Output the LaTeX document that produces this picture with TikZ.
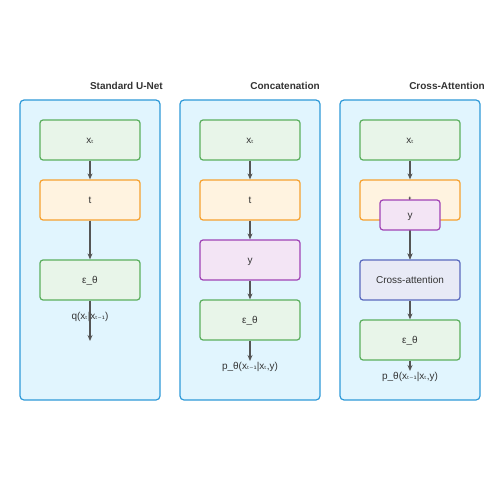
\documentclass[tikz,border=0pt]{standalone}
\usepackage{fontspec}
\setmainfont{Liberation Sans}
\newfontfamily\dvs{DejaVu Sans}
\usetikzlibrary{arrows.meta}
\newcommand{\xt}{x{\dvs\fontsize{8}{9}\selectfont ₜ}}
\newcommand{\xtm}{x{\dvs\fontsize{8}{9}\selectfont ₜ₋₁}}
\definecolor{panelfill}{HTML}{E1F5FE}
\definecolor{paneldraw}{HTML}{2E9AD8}
\definecolor{gfill}{HTML}{E8F5E9}
\definecolor{gdraw}{HTML}{5BAF5E}
\definecolor{ofill}{HTML}{FFF3E0}
\definecolor{odraw}{HTML}{F6A12F}
\definecolor{pfill}{HTML}{F3E5F5}
\definecolor{pdraw}{HTML}{A043B5}
\definecolor{bfill}{HTML}{E8EAF6}
\definecolor{bdraw}{HTML}{5A69BE}
\definecolor{txt}{HTML}{333333}
\definecolor{arr}{HTML}{555555}
\tikzset{
  panel/.style={draw=paneldraw,fill=panelfill,line width=1.2pt,rounded corners=4pt,minimum width=140pt,minimum height=300pt,inner sep=0pt},
  boxbase/.style={line width=1.2pt,rounded corners=3pt,minimum width=100pt,minimum height=40pt,inner sep=0pt,text=txt,font=\fontsize{10}{12}\selectfont,text height=7pt,text depth=0pt},
  gbox/.style={boxbase,draw=gdraw,fill=gfill},
  obox/.style={boxbase,draw=odraw,fill=ofill},
  pbox/.style={boxbase,draw=pdraw,fill=pfill},
  bbox/.style={boxbase,draw=bdraw,fill=bfill},
  ttl/.style={font=\bfseries\fontsize{10}{12}\selectfont,text=txt,anchor=east,inner sep=0pt},
  lbl/.style={font=\fontsize{10}{12}\selectfont,text=txt,inner sep=0pt,text height=7pt,text depth=0pt},
  arw/.style={draw=arr,line width=1.3pt,-{Stealth[length=6pt,width=5pt]}}
}
\begin{document}
\begin{tikzpicture}[x=1pt,y=-1pt]
\useasboundingbox (0,0) rectangle (500,500);
% panels
\node[panel] (p1) at (90,250) {};
\node[panel] (p2) at (250,250) {};
\node[panel] (p3) at (410,250) {};
\node[ttl] (t1) at (163,86) {Standard U-Net};
\node[ttl] (t2) at (320,86) {Concatenation};
\node[ttl] (t3) at (485,86) {Cross-Attention};
% panel 1
\node[gbox] (a1) at (90,140) {\xt};
\node[obox] (a2) at (90,200) {t};
\node[gbox] (a3) at (90,280) {ε\_θ};
\coordinate (a4) at (90,341);
\node[lbl] (aq) at (90,316) {q(\xt|\xtm)};
\draw[arw] (a1) -- (a2);
\draw[arw] (a2) -- (a3);
\draw[arw] (a3) -- (a4);
% panel 2
\node[gbox] (b1) at (250,140) {\xt};
\node[obox] (b2) at (250,200) {t};
\node[pbox] (b3) at (250,260) {y};
\node[gbox] (b4) at (250,320) {ε\_θ};
\coordinate (b5) at (250,361);
\node[lbl] (bp) at (250,366) {p\_θ(\xtm|\xt,y)};
\draw[arw] (b1) -- (b2);
\draw[arw] (b2) -- (b3);
\draw[arw] (b3) -- (b4);
\draw[arw] (b4) -- (b5);
% panel 3
\node[gbox] (c1) at (410,140) {\xt};
\node[obox] (c2) at (410,200) {t};
\node[bbox] (c4) at (410,280) {Cross-attention};
\draw[arw] (c2) -- (c4);
\node[pbox,minimum width=60pt,minimum height=30pt] (c3) at (410,215) {y};
\node[gbox] (c5) at (410,340) {ε\_θ};
\coordinate (c6) at (410,371);
\node[lbl] (cp) at (410,376) {p\_θ(\xtm|\xt,y)};
\draw[arw] (c1) -- (c2);
\draw[arw,dashed] (c3) -- (c4);
\draw[arw] (c4) -- (c5);
\draw[arw] (c5) -- (c6);
\end{tikzpicture}
\end{document}
